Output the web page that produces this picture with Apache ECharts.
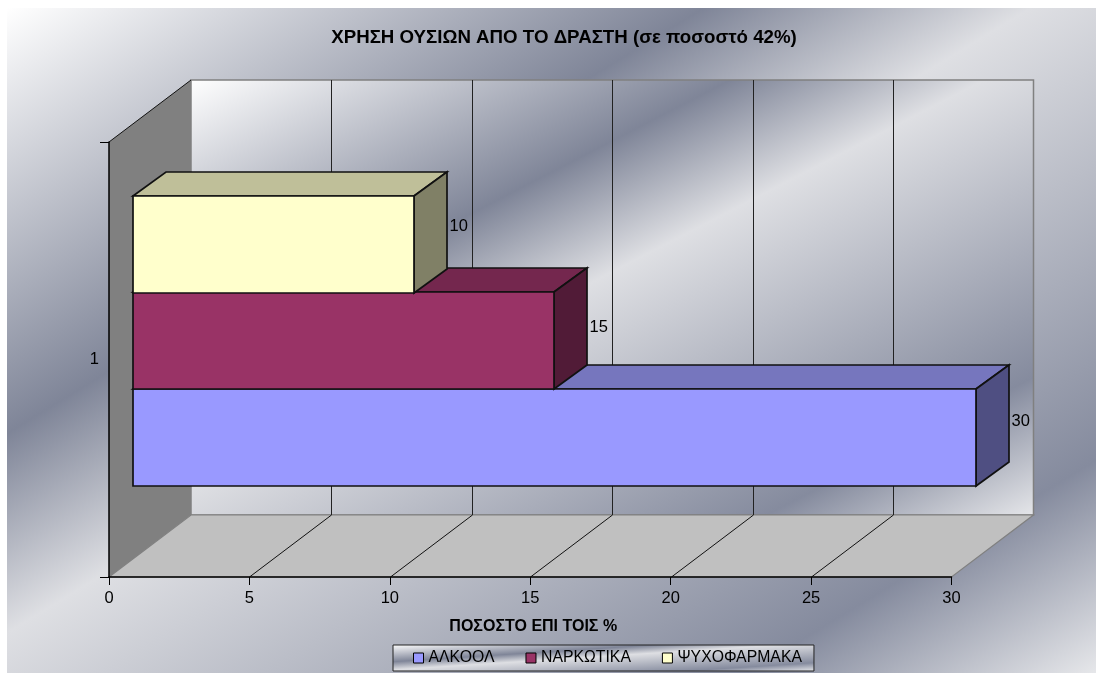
<!DOCTYPE html>
<html><head><meta charset="utf-8">
<style>html,body{margin:0;padding:0;background:#fff}#c{width:1096px;height:673px}</style>
<script src="https://cdn.jsdelivr.net/npm/echarts@6/dist/echarts.min.js"></script>
</head><body><div id="c"></div>
<script>
const categories = ['1'];
const xTicks = [0, 5, 10, 15, 20, 25, 30];
const seriesNames = ['ΑΛΚΟΟΛ', 'ΝΑΡΚΩΤΙΚΑ', 'ΨΥΧΟΦΑΡΜΑΚΑ'];
const alcohol = [30];
const narcotics = [15];
const psychotropics = [10];
const titleText = 'ΧΡΗΣΗ ΟΥΣΙΩΝ ΑΠΟ ΤΟ ΔΡΑΣΤΗ (σε ποσοστό 42%)';
const xName = 'ΠΟΣΟΣΤΟ ΕΠΙ ΤΟΙΣ %';

const FONT = '"Liberation Sans", Arial, sans-serif';
const faces = [
  {front: '#9999FF', top: '#7676BE', side: '#4F4F82'},
  {front: '#993366', top: '#74274E', side: '#511B37'},
  {front: '#FFFFCC', top: '#BFBF99', side: '#808066'}
];
const labelNudge = [8, 11, 6];
const WALL = {dx: 82, dy: -62};
const BAR = {ox: 24, oy: -18.6, dx: 33, dy: -24};

// Excel-like metallic diagonal: iso-lines run along x/W + y/H = const
function metal(w, h) {
  const s = 2 / (1 / (w * w) + 1 / (h * h));
  return {
    type: 'linear', x: 0, y: 0, x2: s / (w * w), y2: s / (h * h), global: false,
    colorStops: [
      {offset: 0, color: '#FFFFFF'},
      {offset: 0.32, color: '#7F8598'},
      {offset: 0.47, color: '#DEDFE3'},
      {offset: 0.84, color: '#858B9E'},
      {offset: 1, color: '#E6E7EA'}
    ]
  };
}

function renderWalls(params, api) {
  const cs = params.coordSys;
  const l = cs.x, r = cs.x + cs.width, t = cs.y, b = cs.y + cs.height;
  const d = WALL;
  return {type: 'group', children: [
    {type: 'rect', shape: {x: l + d.dx, y: t + d.dy, width: cs.width, height: cs.height},
      style: {fill: metal(cs.width, cs.height), stroke: '#808080', lineWidth: 1.5}},
    {type: 'polygon', shape: {points: [[l, t], [l + d.dx, t + d.dy], [l + d.dx, b + d.dy], [l, b]]},
      style: {fill: '#808080', stroke: null}},
    {type: 'line', shape: {x1: l, y1: t, x2: l + d.dx, y2: t + d.dy}, style: {stroke: '#111', lineWidth: 1}},
    {type: 'polygon', shape: {points: [[l, b], [r, b], [r + d.dx, b + d.dy], [l + d.dx, b + d.dy]]},
      style: {fill: '#C0C0C0', stroke: '#808080', lineWidth: 1.2}}
  ]};
}

function renderGridLine(params, api) {
  const v = api.value(0);
  if (v === xTicks[0] || v === xTicks[xTicks.length - 1]) return {type: 'group', children: []};
  const cs = params.coordSys;
  const p = api.coord([v, 0]);
  const x = Math.round(p[0]) + 0.5, b = cs.y + cs.height, d = WALL;
  return {type: 'group', children: [
    {type: 'line', shape: {x1: x, y1: b, x2: x + d.dx, y2: b + d.dy}, style: {stroke: '#111', lineWidth: 1}},
    {type: 'line', shape: {x1: x + d.dx, y1: b + d.dy, x2: x + d.dx, y2: cs.y + d.dy}, style: {stroke: '#222', lineWidth: 1}}
  ]};
}

function makeBarRenderer(i) {
  return function (params, api) {
    const v = api.value(0);
    const p0 = api.coord([0, api.value(1)]);
    const p1 = api.coord([v, api.value(1)]);
    const barH = api.size([0, 1])[1] / 4.5;
    const left = Math.round(p0[0] + BAR.ox), right = Math.round(p1[0] + BAR.ox);
    const bottom = Math.round(p0[1] + BAR.oy + 1.5 * barH - i * barH);
    const top = Math.round(bottom - barH);
    const dx = BAR.dx, dy = BAR.dy, c = faces[i];
    const edge = {stroke: '#111', lineWidth: 1.7, lineJoin: 'miter'};
    return {type: 'group', children: [
      {type: 'polygon', shape: {points: [[left, top], [right, top], [right + dx, top + dy], [left + dx, top + dy]]},
        style: Object.assign({fill: c.top}, edge)},
      {type: 'polygon', shape: {points: [[right, top], [right + dx, top + dy], [right + dx, bottom + dy], [right, bottom]]},
        style: Object.assign({fill: c.side}, edge)},
      {type: 'rect', shape: {x: left, y: top, width: right - left, height: bottom - top},
        style: Object.assign({fill: c.front}, edge)},
      {type: 'text', x: right + dx + 2.5, y: (top + bottom) / 2 + dy + labelNudge[i],
        style: {text: String(v), fill: '#000', font: '16.5px ' + FONT, textAlign: 'left', textVerticalAlign: 'middle'}}
    ]};
  };
}

const allValues = [alcohol, narcotics, psychotropics];
const chart = echarts.init(document.getElementById('c'), null, {renderer: 'canvas', width: 1096, height: 673});
chart.setOption({
  animation: false,
  backgroundColor: '#fff',
  graphic: {elements: [
    {type: 'rect', silent: true, shape: {x: 7, y: 8, width: 1089, height: 665}, style: {fill: metal(1089, 665)}}
  ]},
  title: {
    text: titleText, left: 564, top: 28, textAlign: 'center', padding: 0,
    textStyle: {fontFamily: FONT, fontSize: 18.7, fontWeight: 'bold', color: '#000'}
  },
  legend: {
    data: seriesNames, left: 393, top: 645, orient: 'horizontal',
    padding: [5, 12, 5, 20], itemWidth: 10, itemHeight: 10, itemGap: 31,
    icon: 'rect', selectedMode: false,
    backgroundColor: metal(421, 27), borderColor: '#222', borderWidth: 1,
    itemStyle: {borderColor: '#000', borderWidth: 1},
    textStyle: {fontFamily: FONT, fontSize: 15.8, color: '#000'}
  },
  grid: {left: 109, top: 142, width: 842.5, height: 435, containLabel: false, show: false},
  xAxis: {
    type: 'value', min: 0, max: 30, interval: 5, z: 3,
    name: xName, nameLocation: 'middle', nameGap: 42,
    nameTextStyle: {fontFamily: FONT, fontSize: 16, fontWeight: 'bold', color: '#000', padding: [0, 0, 0, 6]},
    axisLine: {show: true, onZero: false, lineStyle: {color: '#000', width: 1.5}},
    axisTick: {show: true, length: 8, lineStyle: {color: '#000'}},
    axisLabel: {color: '#000', fontFamily: FONT, fontSize: 16.5, margin: 13},
    splitLine: {show: false}
  },
  yAxis: {
    type: 'category', data: categories, z: 3,
    axisLine: {show: true, lineStyle: {color: '#000', width: 1.5}},
    axisTick: {show: true, length: 9, lineStyle: {color: '#000'}},
    axisLabel: {color: '#000', fontFamily: FONT, fontSize: 16.5, margin: 10, padding: [4, 0, 0, 0]},
    splitLine: {show: false}
  },
  series: [
    {type: 'custom', name: 'walls', silent: true, z: 1, clip: false, renderItem: renderWalls,
      encode: {x: 0}, data: [[xTicks[0]]]},
    {type: 'custom', name: 'gridlines', silent: true, z: 1, clip: false, renderItem: renderGridLine,
      encode: {x: 0}, data: xTicks.map(t => [t])}
  ].concat(seriesNames.map((name, i) => ({
    type: 'custom', name, z: 2, clip: false,
    itemStyle: {color: faces[i].front},
    renderItem: makeBarRenderer(i),
    encode: {x: 0, y: 1},
    data: categories.map((c, k) => [allValues[i][k], c])
  })))
});
</script></body></html>
